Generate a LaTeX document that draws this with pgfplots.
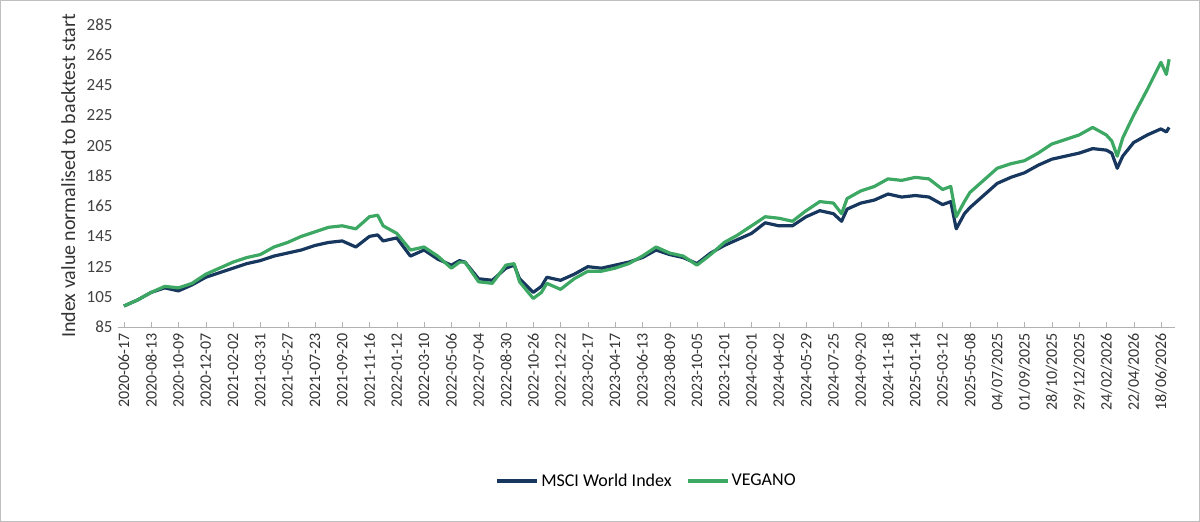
\documentclass[border=0pt]{standalone}
\usepackage{pgfplots}
\pgfplotsset{compat=1.18}
\usepackage{fontspec}
\setmainfont{Carlito}
\definecolor{msci}{HTML}{17375E}
\definecolor{veg}{HTML}{3DA863}
\begin{document}
\fontsize{17pt}{20pt}\selectfont
\begin{tikzpicture}
\draw[gray!50,line width=1pt] (0pt,0pt) rectangle (1200pt,521pt);
\begin{axis}[at={(118pt,194pt)},anchor=south west,
 scale only axis,width=1057pt,height=303pt,
 xmin=-0.2,xmax=38.5,ymin=85,ymax=285,
 ytick={85,105,...,285},
 xtick={0,...,38},
 xticklabels={2020-06-17,2020-08-13,2020-10-09,2020-12-07,2021-02-02,2021-03-31,2021-05-27,2021-07-23,2021-09-20,2021-11-16,2022-01-12,2022-03-10,2022-05-06,2022-07-04,2022-08-30,2022-10-26,2022-12-22,2023-02-17,2023-04-17,2023-06-13,2023-08-09,2023-10-05,2023-12-01,2024-02-01,2024-04-02,2024-05-29,2024-07-25,2024-09-20,2024-11-18,2025-01-14,2025-03-12,2025-05-08,04/07/2025,01/09/2025,28/10/2025,29/12/2025,24/02/2026,22/04/2026,18/06/2026},
 xticklabel style={rotate=90,anchor=east,font=\fontsize{16pt}{18pt}\selectfont,text=black!80},
 yticklabel style={font=\fontsize{17pt}{20pt}\selectfont,text=black!75},
 /pgf/number format/assume math mode=true,
 axis x line*=bottom, axis y line*=left,
 x axis line style={gray!60,line width=1pt,-},
 y axis line style={draw=none},
 major tick length=5pt, xtick style={gray!60}, ytick style={draw=none},
 ylabel={Index value normalised to backtest start},
 ylabel style={font=\fontsize{20pt}{24pt}\selectfont,text=black!80},
 legend style={at={(0.5,-0.47)},anchor=north,draw=none,legend columns=2,font=\fontsize{18pt}{22pt}\selectfont,/tikz/every even column/.append style={column sep=12pt}},
 legend image code/.code={\draw[#1,line width=4pt](0,0)--(40pt,0);},
 every axis plot/.append style={line width=3.2pt,line join=round},
]
\addplot[msci] coordinates {(0,99)(0.5,103)(1,108)(1.5,111)(2,109)(2.5,113)(3,118)(3.5,121)(4,124)(4.5,127)(5,129)(5.5,132)(6,134)(6.5,136)(7,139)(7.5,141)(8,142)(8.5,138)(9,145)(9.3,146)(9.5,142)(10,144)(10.5,132)(11,136)(11.5,130)(12,126)(12.3,129)(12.5,128)(13,117)(13.5,116)(14,124)(14.3,126)(14.5,117)(15,108)(15.3,112)(15.5,118)(16,116)(16.5,120)(17,125)(17.5,124)(18,126)(18.5,128)(19,131)(19.5,136)(20,133)(20.5,131)(21,127)(21.5,134)(22,139)(22.5,143)(23,147)(23.5,154)(24,152)(24.5,152)(25,158)(25.5,162)(26,160)(26.3,155)(26.5,163)(27,167)(27.5,169)(28,173)(28.5,171)(29,172)(29.5,171)(30,166)(30.3,168)(30.5,150)(30.8,160)(31,164)(31.5,172)(32,180)(32.5,184)(33,187)(33.5,192)(34,196)(34.5,198)(35,200)(35.5,203)(36,202)(36.2,200)(36.4,190)(36.6,198)(37,207)(37.5,212)(38,216)(38.2,214)(38.3,217)};
\addlegendentry{MSCI World Index}
\addplot[veg] coordinates {(0,99)(0.5,103)(1,108)(1.5,112)(2,111)(2.5,114)(3,120)(3.5,124)(4,128)(4.5,131)(5,133)(5.5,138)(6,141)(6.5,145)(7,148)(7.5,151)(8,152)(8.5,150)(9,158)(9.3,159)(9.5,152)(10,147)(10.5,136)(11,138)(11.5,132)(12,124)(12.3,128)(12.5,128)(13,115)(13.5,114)(14,126)(14.3,127)(14.5,115)(15,104)(15.3,108)(15.5,114)(16,110)(16.5,117)(17,122)(17.5,122)(18,124)(18.5,127)(19,132)(19.5,138)(20,134)(20.5,132)(21,126)(21.5,133)(22,141)(22.5,146)(23,152)(23.5,158)(24,157)(24.5,155)(25,162)(25.5,168)(26,167)(26.3,160)(26.5,170)(27,175)(27.5,178)(28,183)(28.5,182)(29,184)(29.5,183)(30,176)(30.3,178)(30.5,158)(30.8,168)(31,174)(31.5,182)(32,190)(32.5,193)(33,195)(33.5,200)(34,206)(34.5,209)(35,212)(35.5,217)(36,212)(36.2,208)(36.4,198)(36.6,210)(37,225)(37.5,242)(38,260)(38.2,252)(38.3,262)};
\addlegendentry{VEGANO}
\end{axis}
\end{tikzpicture}
\end{document}
